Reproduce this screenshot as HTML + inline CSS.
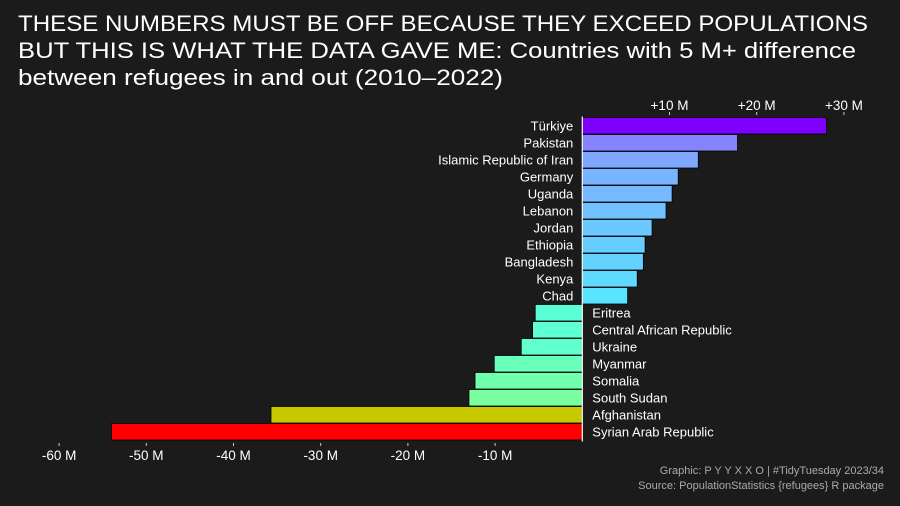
<!DOCTYPE html>
<html><head><meta charset="utf-8"><style>
html,body{margin:0;padding:0;background:#1b1b1b;}
svg{display:block;font-family:"Liberation Sans",sans-serif;}
</style></head><body>
<svg width="900" height="506" viewBox="0 0 900 506">
<rect width="900" height="506" fill="#1b1b1b"/>
<g fill="#ffffff" font-size="22">
<text x="18" y="31" textLength="850" lengthAdjust="spacingAndGlyphs">THESE NUMBERS MUST BE OFF BECAUSE THEY EXCEED POPULATIONS</text>
<text x="18" y="58" textLength="838" lengthAdjust="spacingAndGlyphs">BUT THIS IS WHAT THE DATA GAVE ME: Countries with 5 M+ difference</text>
<text x="18" y="85" textLength="485" lengthAdjust="spacingAndGlyphs">between refugees in and out (2010–2022)</text>
</g>
<g id="plot"></g>
<g fill="#aaaaaa" font-size="11" text-anchor="end">
<text x="884" y="474">Graphic: P Y Y X X O | #TidyTuesday 2023/34</text>
<text x="884" y="489">Source: PopulationStatistics {refugees} R package</text>
</g>
</svg>
<script>
const countries=["Türkiye","Pakistan","Islamic Republic of Iran","Germany","Uganda","Lebanon","Jordan","Ethiopia","Bangladesh","Kenya","Chad","Eritrea","Central African Republic","Ukraine","Myanmar","Somalia","South Sudan","Afghanistan","Syrian Arab Republic"];
const values=[28.0,17.8,13.3,11.0,10.3,9.6,8.0,7.2,7.0,6.3,5.2,-5.4,-5.7,-7.0,-10.1,-12.3,-13.0,-35.7,-54.0];
const colors=["#8000ff","#8484ff","#7ea8ff","#78b4ff","#75b9ff","#71c0ff","#6bc9ff","#66ceff","#63d2ff","#5fd9ff","#58e4ff","#5affd8","#5effd3","#61ffcc","#68ffbb","#70ffaa","#78ffa0","#c8c800","#ff0000"];
const topTicks=[10,20,30];
const bottomTicks=[-60,-50,-40,-30,-20,-10];
const NS="http://www.w3.org/2000/svg";
const g=document.getElementById('plot');
const x0=582.3, pxPer=8.72, yTop=117.5, step=17, bh=16.5;
const xs=v=>x0+v*pxPer;
const ys=i=>yTop+i*step;
function mk(t,a){const e=document.createElementNS(NS,t);for(const k in a)e.setAttribute(k,a[k]);g.appendChild(e);return e;}
countries.forEach((c,i)=>{
  const v=values[i];
  const r=mk('rect',{x:Math.min(xs(0),xs(v)),y:ys(i),width:Math.abs(xs(v)-xs(0)),height:bh,fill:colors[i],stroke:'#000','stroke-width':0.8});
  
  
  const t=mk('text',{x:v>0?x0-9:x0+10,y:ys(i)+13,'text-anchor':v>0?'end':'start',fill:'#ffffff','font-size':13});
  t.textContent=c;
  
  
});
const zl=mk('line',{x1:x0,x2:x0,y1:yTop-1,y2:ys(countries.length)+1,stroke:'#ffffff','stroke-width':1.2});


topTicks.forEach(v=>{
  const l=mk('line',{x1:xs(v),x2:xs(v),y1:112,y2:115,stroke:'#ccc'});
  
  
  const t=mk('text',{x:xs(v),y:110,'text-anchor':'middle',fill:'#fff','font-size':13.5});
  t.textContent='+'+v+' M';
  
  
});
bottomTicks.forEach(v=>{
  const l=mk('line',{x1:xs(v),x2:xs(v),y1:443,y2:446,stroke:'#ccc'});
  
  
  const t=mk('text',{x:xs(v),y:460,'text-anchor':'middle',fill:'#fff','font-size':13.5});
  t.textContent=v+' M';
  
  
});
</script>
</body></html>
